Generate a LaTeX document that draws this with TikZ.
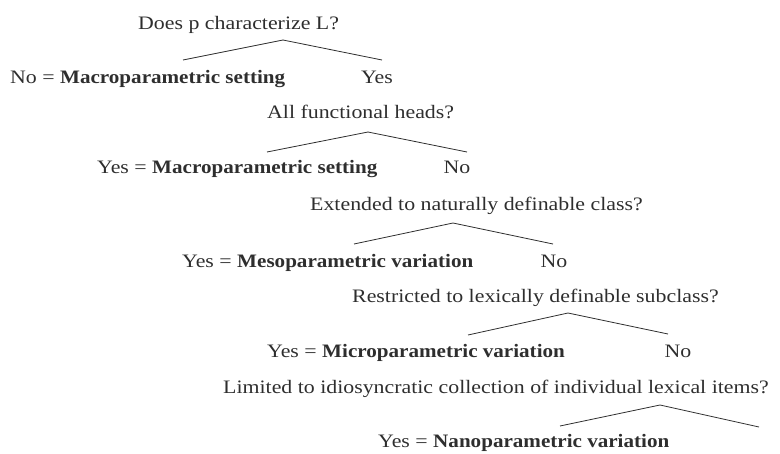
\documentclass[tikz,border=0pt]{standalone}
\usepackage{fontspec}
\setmainfont[FakeStretch=1.15,BoldFeatures={FakeStretch=1.11}]{Liberation Serif}
\begin{document}
\begin{tikzpicture}[x=1pt,y=-1pt,
  ink/.style={black!82},
  label node/.style={ink,inner sep=0pt,font=\fontsize{19}{23}\selectfont},
  branch/.style={ink,line width=0.8pt}]

  \useasboundingbox (0,0) rectangle (780,453);

  % questions
  \node[label node,anchor=base west] (q1) at (138,29.5) {Does p characterize L?};
  \node[label node,anchor=base west] (q2) at (267,118) {All functional heads?};
  \node[label node,anchor=base west] (q3) at (310,210) {Extended to naturally definable class?};
  \node[label node,anchor=base west] (q4) at (352,302) {Restricted to lexically definable subclass?};
  \node[label node,anchor=base west] (q5) at (223,393) {Limited to idiosyncratic collection of individual lexical items?};

  % answers
  \node[label node,anchor=base west] (a1) at (10,83) {No = \textbf{Macroparametric setting}};
  \node[label node,anchor=base] (b1) at (377,83) {Yes};
  \node[label node,anchor=base west] (a2) at (97,173) {Yes = \textbf{Macroparametric setting}};
  \node[label node,anchor=base] (b2) at (457,173) {No};
  \node[label node,anchor=base west] (a3) at (182,267) {Yes = \textbf{Mesoparametric variation}};
  \node[label node,anchor=base] (b3) at (554,267) {No};
  \node[label node,anchor=base west] (a4) at (267,357) {Yes = \textbf{Microparametric variation}};
  \node[label node,anchor=base] (b4) at (678,357) {No};
  \node[label node,anchor=base west] (a5) at (378,447) {Yes = \textbf{Nanoparametric variation}};

  % branch points
  \coordinate (t1) at (283,40);  \coordinate (l1) at (183,60);  \coordinate (r1) at (382,60);
  \coordinate (t2) at (368,132); \coordinate (l2) at (267,152); \coordinate (r2) at (467,152);
  \coordinate (t3) at (453,223); \coordinate (l3) at (354,244); \coordinate (r3) at (553,244);
  \coordinate (t4) at (568,313); \coordinate (l4) at (468,335); \coordinate (r4) at (668,334);
  \coordinate (t5) at (660,405); \coordinate (l5) at (560,426); \coordinate (r5) at (759,427);

  \foreach \i in {1,...,5}
    \draw[branch] (l\i) -- (t\i) -- (r\i);
\end{tikzpicture}
\end{document}
